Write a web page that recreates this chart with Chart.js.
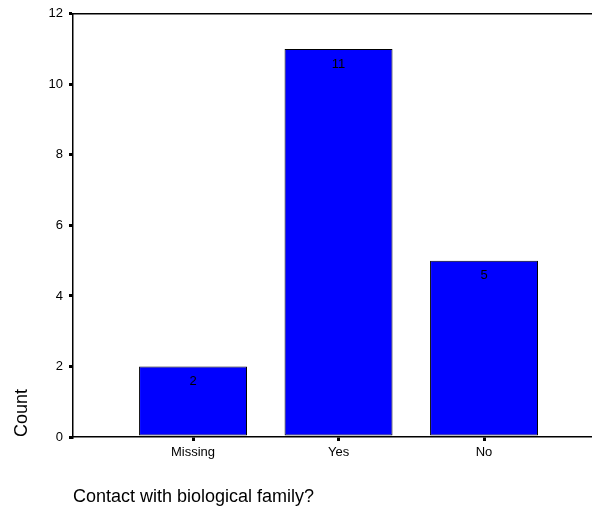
<!DOCTYPE html>
<html>
<head>
<meta charset="utf-8">
<script src="https://cdn.jsdelivr.net/npm/chart.js@4/dist/chart.umd.min.js"></script>
<style>
  html, body { margin: 0; padding: 0; background: #fff; }
  #wrap { width: 592px; height: 512px; }
</style>
</head>
<body>
<div id="wrap"><canvas id="c" width="592" height="512"></canvas></div>
<script>
const categories = ['Missing', 'Yes', 'No'];
const counts = [2, 11, 5];
const yTickValues = [0, 2, 4, 6, 8, 10, 12];
const xTitle = 'Contact with biological family?';
const yTitle = 'Count';

const FONT = "'Liberation Sans', Arial, sans-serif";

const frameTop = {
  id: 'frameTop',
  afterDraw(chart) {
    const { ctx, chartArea } = chart;
    ctx.save();
    ctx.strokeStyle = '#000';
    ctx.lineWidth = 1.5;
    ctx.beginPath();
    ctx.moveTo(chartArea.left - 1, chartArea.top);
    ctx.lineTo(chartArea.right, chartArea.top);
    ctx.stroke();
    ctx.restore();
  }
};

const barLabels = {
  id: 'barLabels',
  afterDatasetsDraw(chart) {
    const { ctx } = chart;
    const meta = chart.getDatasetMeta(0);
    ctx.save();
    ctx.fillStyle = '#000';
    ctx.font = '13px ' + FONT;
    ctx.textAlign = 'center';
    ctx.textBaseline = 'middle';
    meta.data.forEach((el, i) => {
      ctx.fillText(String(counts[i]), el.x, el.y + 15);
    });
    ctx.restore();
  }
};

new Chart(document.getElementById('c'), {
  type: 'bar',
  data: {
    datasets: [{
      data: categories.map((c, i) => ({ x: i, y: counts[i] })),
      backgroundColor: '#0000FF',
      borderColor: '#000',
      borderWidth: 1,
      borderSkipped: false,
      barPercentage: 0.742,
      categoryPercentage: 1
    }]
  },
  options: {
    responsive: false,
    animation: false,
    devicePixelRatio: 1,
    layout: { padding: { top: 13, right: 0, left: 0, bottom: 0 } },
    plugins: { legend: { display: false }, tooltip: { enabled: false } },
    scales: {
      x: {
        type: 'linear',
        offset: false,
        min: -0.825,
        max: 2.742,
        afterBuildTicks: s => { s.ticks = categories.map((c, i) => ({ value: i })); },
        afterFit: s => { s.height = 75; },
        ticks: {
          callback: v => categories[v],
          color: '#000',
          font: { family: FONT, size: 13 },
          padding: 4,
          maxRotation: 0
        },
        grid: { offset: false, drawOnChartArea: false, drawTicks: true, tickLength: 4, lineWidth: 3, color: '#000' },
        border: { display: true, color: '#000', width: 1.5 },
        title: {
          display: true,
          text: xTitle,
          align: 'start',
          color: '#000',
          font: { family: FONT, size: 18 },
          padding: { top: 0, bottom: 4 }
        }
      },
      y: {
        min: 0,
        max: 12,
        afterBuildTicks: s => { s.ticks = yTickValues.map(v => ({ value: v })); },
        afterFit: s => { s.width = 73; },
        ticks: {
          color: '#000',
          font: { family: FONT, size: 13 },
          padding: 6
        },
        grid: { drawOnChartArea: false, drawTicks: true, tickLength: 4, lineWidth: 3, color: '#000' },
        border: { display: true, color: '#000', width: 1.5 },
        title: {
          display: true,
          text: yTitle,
          align: 'start',
          color: '#000',
          font: { family: FONT, size: 18 },
          padding: { top: 11, bottom: 0 }
        }
      }
    }
  },
  plugins: [frameTop, barLabels]
});
</script>
</body>
</html>
